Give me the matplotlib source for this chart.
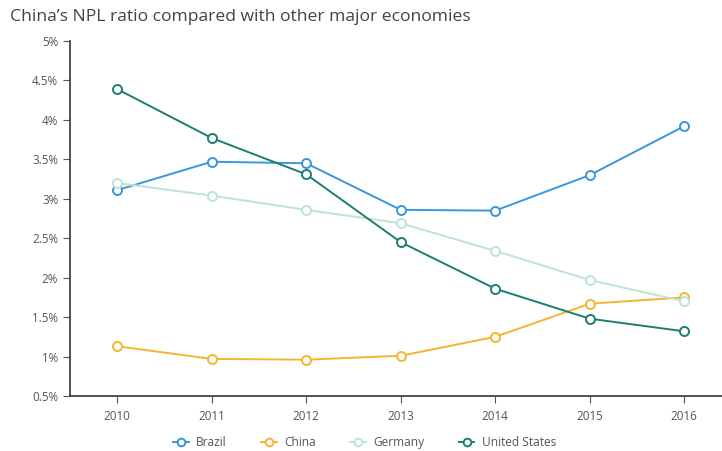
import matplotlib
matplotlib.use("Agg")
import matplotlib.pyplot as plt
from matplotlib.ticker import FuncFormatter

plt.rcParams['font.family'] = ['Open Sans', 'DejaVu Sans']

years = [2010, 2011, 2012, 2013, 2014, 2015, 2016]
brazil = [3.11, 3.47, 3.45, 2.86, 2.85, 3.30, 3.92]
china = [1.13, 0.97, 0.96, 1.01, 1.25, 1.67, 1.75]
germany = [3.20, 3.04, 2.86, 2.69, 2.34, 1.97, 1.70]
usa = [4.39, 3.77, 3.31, 2.45, 1.86, 1.48, 1.32]

series = [
    ("Brazil", brazil, "#3a97dc"),
    ("China", china, "#f5b531"),
    ("Germany", germany, "#bde4d5"),
    ("United States", usa, "#1b7f70"),
]

fig = plt.figure(figsize=(7.22, 4.51), dpi=100)
ax = fig.add_axes([0.097, 0.122, 0.903, 0.787])

for name, vals, col in series:
    ax.plot(years, vals, color=col, lw=1.4, marker='o', ms=6.5,
            mfc='white', mec=col, mew=1.4, label=name, clip_on=False)

ax.set_xlim(2009.5, 2016.4)
ax.set_ylim(0.5, 5)
ax.set_xticks(years)
ax.set_yticks([0.5, 1, 1.5, 2, 2.5, 3, 3.5, 4, 4.5, 5])
ax.yaxis.set_major_formatter(FuncFormatter(lambda v, p: f"{v:g}%"))

for s in ['top', 'right']:
    ax.spines[s].set_visible(False)
for s in ['left', 'bottom']:
    ax.spines[s].set_color('#444444')
    ax.spines[s].set_linewidth(1.3)
ax.tick_params(axis='both', colors='#555555', labelsize=8.4, length=5, width=0.8,
               labelcolor='#555555')
ax.tick_params(axis='x', pad=5)

fig.text(0.014, 0.962, "China’s NPL ratio compared with other major economies",
         fontsize=12.6, color='#444444', va='center')

fig.legend(loc='center', bbox_to_anchor=(0.505, 0.018), ncol=4, frameon=False,
           fontsize=8.6, handlelength=1.3, handletextpad=0.6, columnspacing=2.9,
           labelcolor='#555555', markerscale=0.85)

fig.savefig("out.png", dpi=100)
